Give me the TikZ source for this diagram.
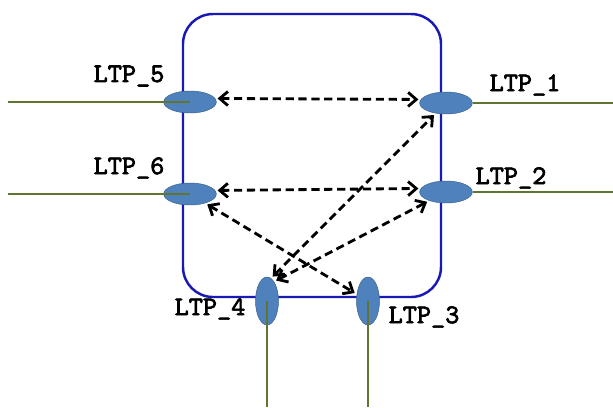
\documentclass[tikz,border=0pt]{standalone}
\usepackage{fontspec}
\newfontfamily\ltpfont[FakeBold=2.5]{lmmono10-regular.otf}
\usetikzlibrary{shapes.geometric,arrows.meta}
\definecolor{ltpfill}{RGB}{79,129,189}
\definecolor{ltpdraw}{RGB}{56,93,138}
\definecolor{wire}{RGB}{95,117,48}
\definecolor{frame}{RGB}{25,25,180}

\begin{document}
\begin{tikzpicture}[x=0.03cm,y=-0.03cm]
        \useasboundingbox (0,0) rectangle (613,407);
        \tikzset{ltp/.style={shape=ellipse,draw=ltpdraw,fill=ltpfill,inner sep=0pt,minimum width=1.58cm,minimum height=0.66cm},
                 ltpv/.style={ltp,minimum width=0.69cm,minimum height=1.44cm},
                 lbl/.style={font=\ltpfont\fontsize{23}{23}\selectfont}}
        %the box
        \draw[frame, line width=2.1pt, rounded corners=0.9cm] (183,14) rectangle (441,297);
        %ports
        \node[ltp] (l5) at (190,102)     {};
        \node[ltp] (l6) at (190,194)     {};
        \node[ltp] (l1) at (446,103)     {};
        \node[ltp] (l2) at (446,192)     {};
        \node[ltpv] (l4) at (267,301)     {};
        \node[ltpv] (l3) at (368,301)     {};
        %labels
        \node[lbl] (t5) at (129,76)     {LTP\_5};
        \node[lbl] (t6) at (129,168)     {LTP\_6};
        \node[lbl] (t1) at (525,85)     {LTP\_1};
        \node[lbl] (t2) at (511,178)     {LTP\_2};
        \node[lbl] (t4) at (210,309)     {LTP\_4};
        \node[lbl] (t3) at (424,317)     {LTP\_3};
        %wires
        \coordinate (w5) at (8,102);
        \coordinate (w6) at (8,194);
        \coordinate (w1) at (613,103);
        \coordinate (w2) at (613,192);
        \coordinate (w4) at (267,407);
        \coordinate (w3) at (368,407);
        \path[-, wire, line width=2.4pt] (w5) edge (l5.center);
        \path[-, wire, line width=2.4pt] (w6) edge (l6.center);
        \path[-, wire, line width=2.4pt] (l1.east) edge (w1);
        \path[-, wire, line width=2.4pt] (l2.east) edge (w2);
        \path[-, wire, line width=2.4pt] (l4.center) edge (w4);
        \path[-, wire, line width=2.4pt] (l3.center) edge (w3);
        %links between the ports
        \tikzset{link/.style={{Straight Barb[length=7pt,width=12pt]}-{Straight Barb[length=7pt,width=12pt]}, line width=2.4pt, dash pattern=on 7pt off 4pt, shorten <=2pt, shorten >=2pt}}
        \path[link] (l5.8) edge (l1.172);
        \path[link] (l6.8) edge (l2.172);
        \path[link] (l6) edge (l3);
        \path[link] (l4.80) edge (l1);
        \path[link] (l4.70) edge (l2);
\end{tikzpicture}
\end{document}
